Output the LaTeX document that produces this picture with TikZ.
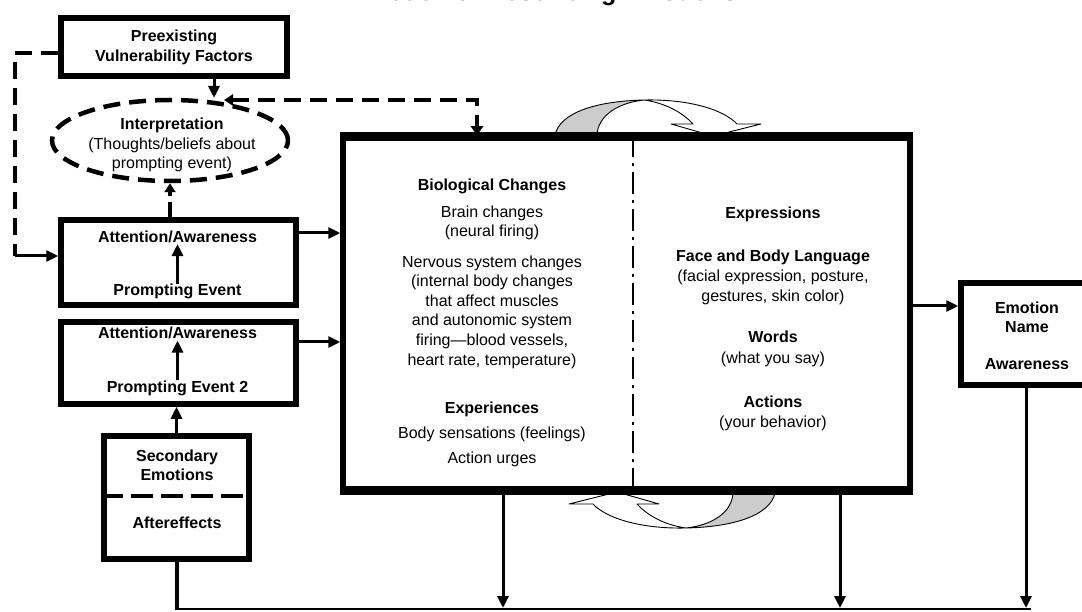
\documentclass[tikz,border=0pt]{standalone}
\usepackage{fontspec}
\setmainfont{Liberation Sans}
\usetikzlibrary{arrows.meta,shapes.geometric}
\begin{document}
\begin{tikzpicture}[x=1pt,y=-1pt,
  box/.style={draw=black,line width=5.5pt,inner sep=0pt},
  bt/.style={font=\fontsize{16}{20}\selectfont\bfseries,align=center,inner sep=0pt,anchor=base},
  rt/.style={font=\fontsize{16}{19.6}\selectfont,align=center,inner sep=0pt,anchor=base},
  grp/.style={font=\fontsize{16}{19.6}\selectfont,align=center,inner sep=0pt,anchor=center},
  bgrp/.style={font=\fontsize{16}{19.5}\selectfont\bfseries,align=center,inner sep=0pt,anchor=center},
  ar/.style={line width=3pt,-{Triangle[length=12pt,width=11pt]}},
  dsh/.style={line width=4.5pt,dash pattern=on 17pt off 9pt},
  dhead/.style={Triangle[length=9pt,width=11pt]},
  dd/.style={line width=2.2pt,dash pattern=on 22pt off 6pt on 3pt off 6pt},
  ribbon/.style={draw=black,line width=0.9pt,line join=round},
]
\useasboundingbox (0,0) rectangle (1082,612);

% title (cut off at top)
\node[font=\fontsize{25}{30}\selectfont\bfseries,anchor=base,inner sep=0pt] (title) at (552.5,1) {Model for Describing Emotions};

% boxes
\node[box,minimum width=226pt,minimum height=58pt,font=\fontsize{16}{20}\selectfont\bfseries,align=center] (pre) at (174,47) {Preexisting\\Vulnerability Factors};
\node[draw=black,ellipse,dsh,minimum width=236pt,minimum height=81pt,inner sep=0pt] (interp) at (170,140.5) {};
\node[grp] (interpt) at (172,145) {\textbf{Interpretation}\\(Thoughts/beliefs about\\prompting event)};

\node[box,minimum width=235pt,minimum height=85pt] (att1) at (178.5,262.5) {};
\node[bt] (aa1) at (177.5,242.5) {Attention/Awareness};
\node[bt] (pe1) at (177.5,295.5) {Prompting Event};

\node[box,minimum width=235pt,minimum height=82pt] (att2) at (178.5,363) {};
\node[bt] (aa2) at (177.5,339) {Attention/Awareness};
\node[bt] (pe2) at (177.5,392) {Prompting Event 2};

\node[box,minimum width=145pt,minimum height=123pt] (sec) at (176.5,497.5) {};
\node[bgrp] (sect) at (177,465.5) {Secondary\\Emotions};
\node[bt] (aft) at (177,528) {Aftereffects};
\coordinate (sd) at (0,496);
\draw[line width=4.5pt,dash pattern=on 22pt off 8pt] (sec.west |- sd) -- (sec.east |- sd);

\node[box,minimum width=567pt,minimum height=351pt] (main) at (626.5,313.5) {};
\coordinate (dv) at (633,0);
\draw[dd] (main.north -| dv) -- (main.south -| dv);

% left column of main box
\node[bt] (bio) at (492,191) {Biological Changes};
\node[grp] (brain) at (492,223) {Brain changes\\(neural firing)};
\node[grp] (nerv) at (492,312) {Nervous system changes\\(internal body changes\\that affect muscles\\and autonomic system\\firing---blood vessels,\\heart rate, temperature)};
\node[bt] (exp) at (492,413) {Experiences};
\node[rt] (body) at (492,438) {Body sensations (feelings)};
\node[rt] (urge) at (492,463) {Action urges};

% right column of main box
\node[bt] (expr) at (773,219) {Expressions};
\node[bt] (face) at (773,262) {Face and Body Language};
\node[grp] (facet) at (773,287.5) {(facial expression, posture,\\gestures, skin color)};
\node[bt] (words) at (773,343) {Words};
\node[rt] (wordst) at (773,363) {(what you say)};
\node[bt] (act) at (773,407) {Actions};
\node[rt] (actt) at (773,427) {(your behavior)};

% emotion box (right edge beyond page)
\node[box,minimum width=125pt,minimum height=102pt] (emo) at (1023.5,334) {};
\node[bgrp] (emot) at (1027,317.5) {Emotion\\Name};
\node[bt] (awa) at (1027,370) {Awareness};

% curved ribbon arrows
\begin{scope}
  \filldraw[ribbon,fill=black!20] (555,135) .. controls (560,112) and (598,101) .. (644,100)
     .. controls (617,103) and (598,116) .. (597,135) -- cycle;
  \filldraw[ribbon,fill=white] (644,100) .. controls (690,99) and (724,110) .. (737,124)
     -- (761,124) -- (713,136) -- (671,124) -- (693,124)
     .. controls (682,112) and (665,103) .. (644,100) -- cycle;
\end{scope}
\begin{scope}[rotate around={180:(665,314)}]
  \filldraw[ribbon,fill=black!20] (555,135) .. controls (560,112) and (598,101) .. (644,100)
     .. controls (617,103) and (598,116) .. (597,135) -- cycle;
  \filldraw[ribbon,fill=white] (644,100) .. controls (690,99) and (724,110) .. (737,124)
     -- (761,124) -- (713,136) -- (671,124) -- (693,124)
     .. controls (682,112) and (665,103) .. (644,100) -- cycle;
\end{scope}
\draw[line width=5.5pt] (main.north west) -- (main.north east);
\draw[line width=5.5pt] (main.south west) -- (main.south east);

% connectors
\coordinate (vin) at (214,98);
\draw[ar] (pre.south -| vin) -- (vin);
\coordinate (dl) at (224,100);
\coordinate (dr) at (477,100);
\draw[dsh,{Triangle[length=9pt,width=11pt]}-{Triangle[length=9pt,width=12pt]}] (dl) -- (dr) -- (dr |- main.north);

\coordinate (lt) at (15,53);
\coordinate (lb) at (15,256);
\draw[dsh] (pre.west |- lt) -- (lt) -- (lb);
\draw[ar] (lb) -- (att1.west |- lb);

\draw[line width=4.5pt,dash pattern=on 15pt off 6pt,-{Triangle[length=9pt,width=11pt]}] (att1.north -| interp.south) -- (interp.south);
\draw[ar] (pe1.north) -- ([yshift=-1pt]aa1.south);
\draw[ar] (pe2.north) -- ([yshift=-1pt]aa2.south);
\draw[ar] (sec.north) -- (sec.north |- att2.south);

\coordinate (a1) at (0,233);
\coordinate (a2) at (0,342);
\draw[ar] (att1.east |- a1) -- (main.west |- a1);
\draw[ar] (att2.east |- a2) -- (main.west |- a2);
\coordinate (em) at (0,306);
\draw[ar] (main.east |- em) -- (emo.west |- em);

\coordinate (b1) at (503,608);
\coordinate (b2) at (840,608);
\coordinate (b3) at (1026,608);
\coordinate (bl) at (177,609);
\coordinate (br) at (1031,609);
\draw[ar] (main.south -| b1) -- (b1);
\draw[ar] (main.south -| b2) -- (b2);
\draw[ar] (emo.south -| b3) -- (b3);
\draw[line width=3.5pt] (sec.south -| bl) -- ([yshift=-0.8pt]bl);
\draw[line width=1.8pt] (bl) -- (br);
\end{tikzpicture}
\end{document}
